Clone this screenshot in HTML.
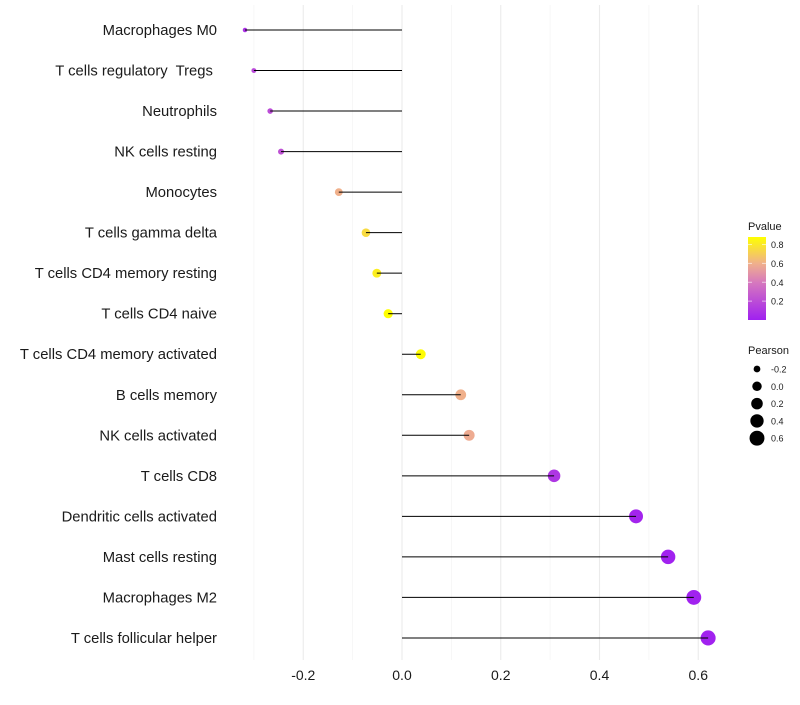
<!DOCTYPE html>
<html><head><meta charset="utf-8"><style>
body{margin:0;background:#fff;font-family:"Liberation Sans",sans-serif}
svg text{font-family:"Liberation Sans",sans-serif;white-space:pre}
</style></head><body>
<svg id="chart" width="800" height="700" xmlns="http://www.w3.org/2000/svg">
<g id="grid"></g>
<g id="marks"></g>
<g id="labels"></g>
<g id="xticks"></g>
<g id="legend"></g>
</svg>
<script>
const categories=["Macrophages M0","T cells regulatory  Tregs\u00a0","Neutrophils","NK cells resting","Monocytes","T cells gamma delta","T cells CD4 memory resting","T cells CD4 naive","T cells CD4 memory activated","B cells memory","NK cells activated","T cells CD8","Dendritic cells activated","Mast cells resting","Macrophages M2","T cells follicular helper"];
const pearson=[-0.318,-0.300,-0.267,-0.245,-0.128,-0.073,-0.051,-0.028,0.038,0.119,0.136,0.308,0.474,0.539,0.591,0.620];
const pvalues=[0.08,0.18,0.2,0.22,0.6,0.75,0.82,0.88,0.87,0.6,0.58,0.1,0.02,0.01,0.01,0.01];
const xTicks=[-0.2,0,0.2,0.4,0.6];
const xMinor=[-0.3,-0.1,0.1,0.3,0.5];
const pTicks=[0.2,0.4,0.6,0.8];
const sizeTicks=[-0.2,0.0,0.2,0.4,0.6];

const NS="http://www.w3.org/2000/svg";
const x=v=>402+v*493.75;
const y=i=>30+i*40.53;
const r=v=>Math.sqrt(Math.max(1,5+55*(v+0.318)));
const pMin=0.0,pMax=0.88;
const stops=[[0,[160,32,240]],[0.45,[214,120,190]],[0.68,[240,176,140]],[1,[255,255,0]]];
function col(p){let t=Math.min(1,Math.max(0,(p-pMin)/(pMax-pMin)));
 for(let k=0;k<stops.length-1;k++){const a=stops[k],b=stops[k+1];if(t<=b[0]){const u=(t-a[0])/(b[0]-a[0]);return "rgb("+a[1].map((c,j)=>Math.round(c+(b[1][j]-c)*u)).join(",")+")";}}
 return "rgb(255,255,0)";}
const py=p=>320-(p-pMin)/(pMax-pMin)*83;
function mk(tag,attrs,parent){const e=document.createElementNS(NS,tag);for(const k in attrs)e.setAttribute(k,attrs[k]);parent.appendChild(e);return e;}

const grid=document.getElementById('grid');
xMinor.forEach(v=>{const l=mk('line',{x1:x(v),x2:x(v),y1:5,y2:660,stroke:'#f4f4f4','stroke-width':0.7},grid);

});
xTicks.forEach(v=>{const l=mk('line',{x1:x(v),x2:x(v),y1:5,y2:660,stroke:'#ebebeb','stroke-width':1.1},grid);

});

const marks=document.getElementById('marks');
categories.forEach((c,i)=>{
 const d=mk('circle',{cx:x(pearson[i]),cy:y(i),r:r(pearson[i]),fill:col(pvalues[i])},marks);
 
 
 const s=mk('line',{x1:x(0),x2:x(pearson[i]),y1:y(i),y2:y(i),stroke:'#000','stroke-width':1},marks);
 
 
 const t=mk('text',{x:217,y:y(i)+5,'text-anchor':'end','font-size':14.8,fill:'#1a1a1a'},document.getElementById('labels'));
 t.textContent=c;
 
 
});
xTicks.forEach(v=>{const t=mk('text',{x:x(v),y:680,'text-anchor':'middle','font-size':14,fill:'#1a1a1a'},document.getElementById('xticks'));
 t.textContent=v===0?'0.0':v.toFixed(1);
 
 });

const lg=document.getElementById('legend');
const tt=mk('text',{x:748,y:230,'font-size':11,fill:'#1a1a1a'},lg);tt.textContent='Pvalue';


const defs=mk('defs',{},lg);const gr=mk('linearGradient',{id:'pg',x1:0,y1:1,x2:0,y2:0},defs);
stops.forEach(s=>mk('stop',{offset:s[0],'stop-color':'rgb('+s[1].join(',')+')'},gr));
const bar=mk('rect',{x:748,y:237,width:18,height:83,fill:'url(#pg)'},lg);


pTicks.forEach(p=>{mk('line',{x1:748,x2:752,y1:py(p),y2:py(p),stroke:'#fff','stroke-opacity':0.6},lg);mk('line',{x1:762,x2:766,y1:py(p),y2:py(p),stroke:'#fff','stroke-opacity':0.6},lg);
 const t=mk('text',{x:771,y:py(p)+3.5,'font-size':9,fill:'#1a1a1a'},lg);t.textContent=p.toFixed(1);
 
 });
const st=mk('text',{x:748,y:354,'font-size':11,fill:'#1a1a1a'},lg);st.textContent='Pearson';


sizeTicks.forEach((v,k)=>{const cy=369+k*17.3;
 const c=mk('circle',{cx:757,cy:cy,r:r(v),fill:'#000'},lg);
 
 
 const t=mk('text',{x:771,y:cy+3.5,'font-size':9,fill:'#1a1a1a'},lg);t.textContent=v.toFixed(1);
 
 });
</script>
</body></html>
